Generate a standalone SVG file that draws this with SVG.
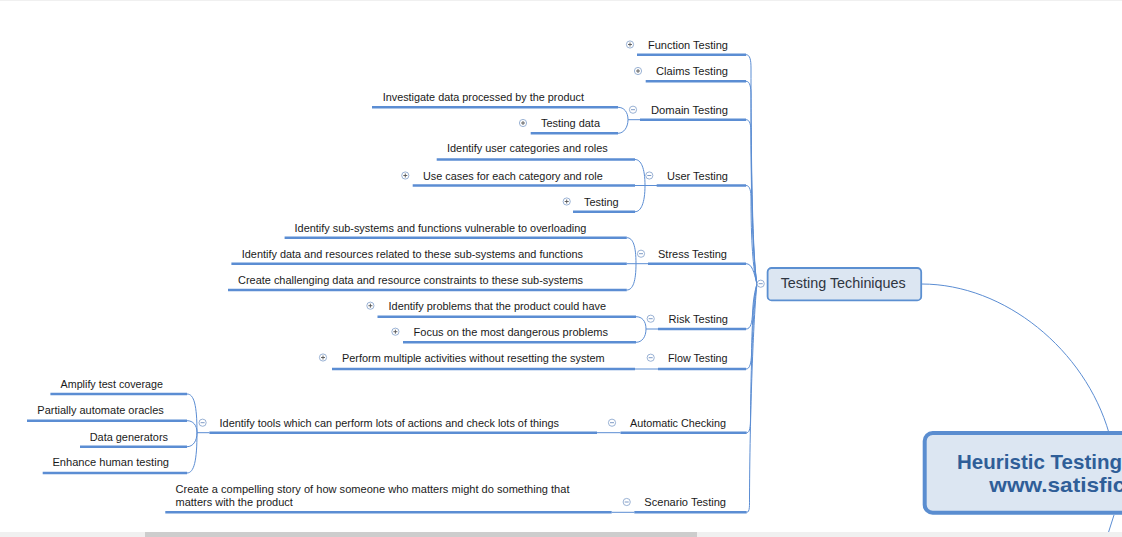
<svg xmlns="http://www.w3.org/2000/svg" xmlns:xlink="http://www.w3.org/1999/xlink" width="1122" height="537" viewBox="0 0 1122 537">
<style>
.t{font-family:"Liberation Sans",Arial,sans-serif;font-size:11px;fill:#1a1a1a}
.ul{fill:none;stroke:#5b8dd3;stroke-width:2.6}
.c{fill:none;stroke:#5b8dd3;stroke-width:1}
.ic circle{fill:#fff;stroke:#8ea9cf;stroke-width:0.9}
.ic path{stroke:#6f8fbf;stroke-width:0.9;fill:none}
.main{font-family:"Liberation Sans",Arial,sans-serif;font-size:20.5px;font-weight:bold;fill:#2f5e98}
</style>
<defs>
<g id="plus" class="ic"><circle r="3.6"/><path d="M-2,0H2M0,-2V2" style="stroke:#555"/></g>
<g id="minus" class="ic"><circle r="3.6"/><path d="M-2,0H2"/></g>
</defs>
<rect width="1122" height="537" fill="#fff"/>
<path d="M0,0.5H1122" stroke="#f0f0f0" stroke-width="1"/>

<g id="connectors">
<path class="c" d="M921.5,284 C1005,284 1085,350 1109,433"/>
<path class="c" d="M1114,515 L1107,537"/>
<path class="c" d="M746,54.7 C750,54.7 751,60 751,68 C751,180 753,260 757,284"/>
<path class="c" d="M746,81.3 C750,81.3 751,87 751,95 C751,190 753,262 757,284"/>
<path class="c" d="M746,119.7 C750,119.7 751,125 751,133 C751,200 753,264 757,284"/>
<path class="c" d="M746,185.5 C750,185.5 751,191 751,199 C751,240 753,270 757,284"/>
<path class="c" d="M746,263.7 C752,263.7 754,272 757,284"/>
<path class="c" d="M746,329 C751,329 752,322 752.5,314 C753,300 755,290 757,284"/>
<path class="c" d="M746,369 C750,369 751,363 751.5,355 C752,320 754,295 757,284"/>
<path class="c" d="M746.7,432.7 C750,432.7 750.5,426 750.5,418 C751,350 754,300 757,284"/>
<path class="c" d="M746.7,512.3 C750,512.3 749.5,505 749.5,497 C750,400 754,310 757,284"/>
<path class="c" d="M618,107.3 C624,107.3 628,112 628,119.7 M618,133.3 C624,133.3 628,127 628,119.7 M628,119.7 H640"/>
<path class="c" d="M635,159.5 C641,159.5 645,168 645,185.5 M635,211.7 C641,211.7 645,203 645,185.5 M635,185.5 H657"/>
<path class="c" d="M626.8,237.7 C633,237.7 636,246 636,263.7 M626.8,290 C633,290 636,281 636,263.7 M626.8,263.7 H648"/>
<path class="c" d="M636,316.7 C642,316.7 646,321 646,329 M636,342.3 C642,342.3 646,337 646,329 M646,329 H658"/>
<path class="c" d="M635,369 H658"/>
<path class="c" d="M597,432.7 H620.5"/>
<path class="c" d="M187,394 C194,394 197,405 197,432.7 M187,420.7 C193,420.7 197,425 197,432.7 M187,446.7 C193,446.7 197,441 197,432.7 M187,473 C194,473 197,461 197,432.7 M197,432.7 H209.4"/>
<path class="c" d="M611.7,512.3 H634.3"/>
</g>

<g id="central">
<rect x="924.7" y="433" width="260" height="79.7" rx="8" fill="#dce6f2" stroke="#5a8dd0" stroke-width="4"/>
<text class="main" x="957" y="468.5" textLength="165" lengthAdjust="spacingAndGlyphs">Heuristic Testing</text>
<text class="main" x="989.3" y="491.7" textLength="148.7" lengthAdjust="spacingAndGlyphs">www.satisfice</text>
</g>

<g id="testing-techniques">
<rect x="767.6" y="268" width="153.6" height="32.4" rx="4" fill="#dce6f2" stroke="#5b8fd1" stroke-width="1.8"/>
<text x="780.7" y="287.8" textLength="125" lengthAdjust="spacingAndGlyphs" style="font-family:'Liberation Sans',Arial,sans-serif;font-size:14px;fill:#2e3540">Testing Techiniques</text>
<use href="#minus" x="760.7" y="283.7"/>
</g>

<g id="function-testing">
<use href="#plus" x="630" y="44.5"/>
<text class="t" x="648" y="49" textLength="80" lengthAdjust="spacingAndGlyphs">Function Testing</text>
<path class="ul" d="M637,54.7H746"/>
</g>
<g id="claims-testing">
<use href="#plus" x="638" y="71"/>
<text class="t" x="656" y="75" textLength="72" lengthAdjust="spacingAndGlyphs">Claims Testing</text>
<path class="ul" d="M645.7,81.3H746"/>
</g>
<g id="domain-testing">
<use href="#minus" x="633" y="109.7"/>
<text class="t" x="651" y="114" textLength="77" lengthAdjust="spacingAndGlyphs">Domain Testing</text>
<path class="ul" d="M640,119.7H746"/>
</g>
<g id="investigate-data">
<text class="t" x="382.7" y="101" textLength="201.3" lengthAdjust="spacingAndGlyphs">Investigate data processed by the product</text>
<path class="ul" d="M372,107.3H618"/>
</g>
<g id="testing-data">
<use href="#plus" x="523" y="123"/>
<text class="t" x="541" y="126.8" textLength="59" lengthAdjust="spacingAndGlyphs">Testing data</text>
<path class="ul" d="M530.7,133.3H618"/>
</g>
<g id="user-testing">
<use href="#minus" x="649.3" y="175.5"/>
<text class="t" x="667" y="179.7" textLength="61" lengthAdjust="spacingAndGlyphs">User Testing</text>
<path class="ul" d="M656.7,185.5H746"/>
</g>
<g id="user-categories">
<text class="t" x="447" y="152.4" textLength="160.7" lengthAdjust="spacingAndGlyphs">Identify user categories and roles</text>
<path class="ul" d="M436.7,159.5H635"/>
</g>
<g id="use-cases">
<use href="#plus" x="405.3" y="175.5"/>
<text class="t" x="423" y="179.7" textLength="179.7" lengthAdjust="spacingAndGlyphs">Use cases for each category and role</text>
<path class="ul" d="M412.7,185.5H635"/>
</g>
<g id="user-testing-testing">
<use href="#plus" x="566.7" y="201.5"/>
<text class="t" x="584" y="205.7" textLength="34.7" lengthAdjust="spacingAndGlyphs">Testing</text>
<path class="ul" d="M573,211.7H635"/>
</g>
<g id="stress-testing">
<use href="#minus" x="641" y="253.7"/>
<text class="t" x="658" y="257.7" textLength="69" lengthAdjust="spacingAndGlyphs">Stress Testing</text>
<path class="ul" d="M648,263.7H746"/>
</g>
<g id="stress-1">
<text class="t" x="294.6" y="231.7" textLength="291.8" lengthAdjust="spacingAndGlyphs">Identify sub-systems and functions vulnerable to overloading</text>
<path class="ul" d="M284.6,237.7H626.8"/>
</g>
<g id="stress-2">
<text class="t" x="241.8" y="257.7" textLength="341.2" lengthAdjust="spacingAndGlyphs">Identify data and resources related to these sub-systems and functions</text>
<path class="ul" d="M231.4,263.7H626.8"/>
</g>
<g id="stress-3">
<text class="t" x="238" y="284" textLength="345" lengthAdjust="spacingAndGlyphs">Create challenging data and resource constraints to these sub-systems</text>
<path class="ul" d="M228,290H626.8"/>
</g>
<g id="risk-testing">
<use href="#minus" x="650.7" y="318.7"/>
<text class="t" x="668.6" y="322.9" textLength="59.4" lengthAdjust="spacingAndGlyphs">Risk Testing</text>
<path class="ul" d="M658,329H746"/>
</g>
<g id="risk-1">
<use href="#plus" x="370.4" y="305.7"/>
<text class="t" x="388.6" y="310" textLength="217.4" lengthAdjust="spacingAndGlyphs">Identify problems that the product could have</text>
<path class="ul" d="M377.5,316.7H636"/>
</g>
<g id="risk-2">
<use href="#plus" x="395.4" y="331.7"/>
<text class="t" x="413.6" y="335.7" textLength="194.4" lengthAdjust="spacingAndGlyphs">Focus on the most dangerous problems</text>
<path class="ul" d="M403,342.3H636"/>
</g>
<g id="flow-testing">
<use href="#minus" x="650.7" y="357.7"/>
<text class="t" x="668" y="361.9" textLength="59.5" lengthAdjust="spacingAndGlyphs">Flow Testing</text>
<path class="ul" d="M658,369H746"/>
</g>
<g id="flow-1">
<use href="#plus" x="323" y="357.5"/>
<text class="t" x="342" y="361.7" textLength="262.6" lengthAdjust="spacingAndGlyphs">Perform multiple activities without resetting the system</text>
<path class="ul" d="M332,369H635"/>
</g>
<g id="automatic-checking">
<use href="#minus" x="612" y="422.7"/>
<text class="t" x="630" y="426.7" textLength="96" lengthAdjust="spacingAndGlyphs">Automatic Checking</text>
<path class="ul" d="M620.5,432.7H746.7"/>
</g>
<g id="identify-tools">
<use href="#minus" x="202.6" y="422.7"/>
<text class="t" x="219.6" y="426.7" textLength="339.4" lengthAdjust="spacingAndGlyphs">Identify tools which can perform lots of actions and check lots of things</text>
<path class="ul" d="M209.4,432.7H597"/>
</g>
<g id="amplify">
<text class="t" x="60.6" y="388.3" textLength="102.4" lengthAdjust="spacingAndGlyphs">Amplify test coverage</text>
<path class="ul" d="M50.4,394H187"/>
</g>
<g id="oracles">
<text class="t" x="37.3" y="414" textLength="126.5" lengthAdjust="spacingAndGlyphs">Partially automate oracles</text>
<path class="ul" d="M27,420.7H187"/>
</g>
<g id="data-generators">
<text class="t" x="89.7" y="441" textLength="78.3" lengthAdjust="spacingAndGlyphs">Data generators</text>
<path class="ul" d="M80,446.7H187"/>
</g>
<g id="enhance">
<text class="t" x="52.4" y="466.3" textLength="116.6" lengthAdjust="spacingAndGlyphs">Enhance human testing</text>
<path class="ul" d="M42.7,473H187"/>
</g>
<g id="scenario-testing">
<use href="#minus" x="626.7" y="502"/>
<text class="t" x="644.3" y="506.2" textLength="81.7" lengthAdjust="spacingAndGlyphs">Scenario Testing</text>
<path class="ul" d="M634.3,512.3H746.7"/>
</g>
<g id="scenario-1">
<text class="t" x="175.5" y="492.7" textLength="394" lengthAdjust="spacingAndGlyphs">Create a compelling story of how someone who matters might do something that</text>
<text class="t" x="175.5" y="506.3" textLength="117.3" lengthAdjust="spacingAndGlyphs">matters with the product</text>
<path class="ul" d="M165.3,512.3H611.7"/>
</g>

<rect x="0" y="532" width="1122" height="5" fill="#f0f0f0"/>
<rect x="145" y="532" width="552" height="5" fill="#cdcdcd"/>
</svg>
